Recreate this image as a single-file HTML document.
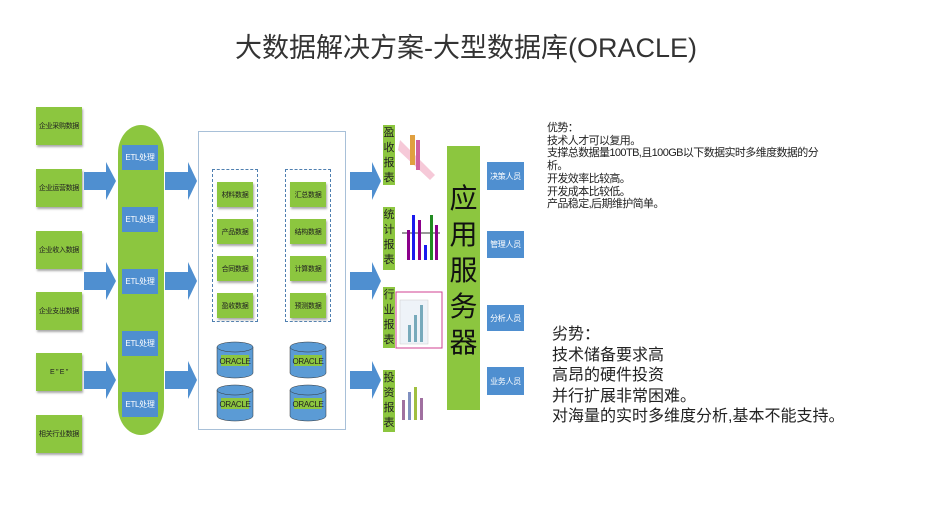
<!DOCTYPE html>
<html><head><meta charset="utf-8"><style>
body{margin:0;width:950px;height:525px;background:#fff;position:relative;overflow:hidden;font-family:"Liberation Sans","Noto Sans CJK SC",sans-serif}
div{position:absolute;box-sizing:border-box}
.g{background:#8cc63f;color:#222;font-size:7px;white-space:nowrap;letter-spacing:-0.3px;display:flex;align-items:center;justify-content:center;box-shadow:1px 2px 2px #aaa}
.b{background:#4f8fd0;color:#fff;font-size:8px;white-space:nowrap;letter-spacing:-0.3px;display:flex;align-items:center;justify-content:center}
.rl{background:#8cc63f;width:12px;font-size:11px;line-height:15px;text-align:center;color:#222;padding-top:1px}
</style></head><body>
<div style="left:1px;top:26px;width:930px;text-align:center;font-size:27px;color:#333">大数据解决方案-大型数据库(ORACLE)</div>

<div class="g" style="left:36px;top:107px;width:46px;height:38px">企业采购数据</div>
<div class="g" style="left:36px;top:169px;width:46px;height:38px">企业运营数据</div>
<div class="g" style="left:36px;top:231px;width:46px;height:38px">企业收入数据</div>
<div class="g" style="left:36px;top:292px;width:46px;height:38px">企业支出数据</div>
<div class="g" style="left:36px;top:353px;width:46px;height:38px">E " E "</div>
<div class="g" style="left:36px;top:415px;width:46px;height:38px">相关行业数据</div>

<svg style="position:absolute;left:0;top:0" width="950" height="525">
<g fill="#4f8fd0">
<polygon points="84,172 106,172 106,162 116,181 106,200 106,190 84,190"/>
<polygon points="84,272 106,272 106,262 116,281 106,300 106,290 84,290"/>
<polygon points="84,371 106,371 106,361 116,380 106,399 106,389 84,389"/>
<polygon points="165,172 188,172 188,162 197,181 188,200 188,190 165,190"/>
<polygon points="165,272 188,272 188,262 197,281 188,300 188,290 165,290"/>
<polygon points="165,371 188,371 188,361 197,380 188,399 188,389 165,389"/>
<polygon points="350,172 372,172 372,162 381,181 372,200 372,190 350,190"/>
<polygon points="350,272 372,272 372,262 381,281 372,300 372,290 350,290"/>
<polygon points="350,371 372,371 372,361 381,380 372,399 372,389 350,389"/>
</g>
<g stroke="#333" stroke-width="0.5" fill="#5b9bd5">
<path d="M217,347 v26 a18,5 0 0 0 36,0 v-26" /><ellipse cx="235" cy="347" rx="18" ry="5"/>
<path d="M217,390 v26 a18,5 0 0 0 36,0 v-26" /><ellipse cx="235" cy="390" rx="18" ry="5"/>
<path d="M290,347 v26 a18,5 0 0 0 36,0 v-26" /><ellipse cx="308" cy="347" rx="18" ry="5"/>
<path d="M290,390 v26 a18,5 0 0 0 36,0 v-26" /><ellipse cx="308" cy="390" rx="18" ry="5"/>
</g>
<g font-size="8" fill="#222" text-anchor="middle" letter-spacing="-0.3"><rect x="221" y="355" width="28" height="11" fill="#8cc63f"/><rect x="221" y="398" width="28" height="11" fill="#8cc63f"/><rect x="294" y="355" width="28" height="11" fill="#8cc63f"/><rect x="294" y="398" width="28" height="11" fill="#8cc63f"/>
<text x="235" y="364">ORACLE</text><text x="235" y="407">ORACLE</text><text x="308" y="364">ORACLE</text><text x="308" y="407">ORACLE</text></g>
<g><polygon points="400,140 435,175 430,180 398,150" fill="#f6c9d8"/><rect x="410" y="135" width="5" height="30" fill="#e0a040"/><rect x="416" y="140" width="4" height="30" fill="#d060a0"/>
<rect x="400" y="207" width="42" height="55" fill="#fff"/><line x1="402" y1="233" x2="440" y2="233" stroke="#333"/><rect x="407" y="230" width="3" height="30" fill="#8b008b"/><rect x="412" y="215" width="3" height="45" fill="#1a1aee"/><rect x="418" y="220" width="3" height="40" fill="#8b008b"/><rect x="424" y="245" width="3" height="15" fill="#1a1aee"/><rect x="430" y="215" width="3" height="45" fill="#228b22"/><rect x="435" y="225" width="3" height="35" fill="#8b008b"/>
<rect x="396" y="292" width="46" height="56" fill="#fff" stroke="#d04090"/><rect x="400" y="300" width="28" height="44" fill="#eef3f8" stroke="#ccc" stroke-width=".5"/><rect x="408" y="325" width="3" height="17" fill="#7ab"/><rect x="414" y="315" width="3" height="27" fill="#7ab"/><rect x="420" y="305" width="3" height="37" fill="#7ab"/>
<rect x="396" y="375" width="44" height="55" fill="#fff"/><rect x="402" y="400" width="3" height="20" fill="#a070a0"/><rect x="408" y="392" width="3" height="28" fill="#8090c0"/><rect x="414" y="387" width="3" height="33" fill="#a0c040"/><rect x="420" y="398" width="3" height="22" fill="#a070a0"/></g>
</svg>

<div style="left:118px;top:125px;width:46px;height:310px;background:#8cc63f;border-radius:23px/28px"></div>
<div class="b" style="left:122px;top:145px;width:36px;height:25px">ETL处理</div>
<div class="b" style="left:122px;top:207px;width:36px;height:25px">ETL处理</div>
<div class="b" style="left:122px;top:269px;width:36px;height:25px">ETL处理</div>
<div class="b" style="left:122px;top:331px;width:36px;height:25px">ETL处理</div>
<div class="b" style="left:122px;top:392px;width:36px;height:25px">ETL处理</div>

<div style="left:198px;top:131px;width:148px;height:299px;border:1px solid #a8c0d8"></div>
<div style="left:212px;top:169px;width:46px;height:153px;border:1px dashed #4f7fb0"></div>
<div style="left:285px;top:169px;width:46px;height:153px;border:1px dashed #4f7fb0"></div>
<div class="g" style="left:217px;top:182px;width:36px;height:25px">材料数据</div>
<div class="g" style="left:217px;top:219px;width:36px;height:25px">产品数据</div>
<div class="g" style="left:217px;top:256px;width:36px;height:25px">合同数据</div>
<div class="g" style="left:217px;top:293px;width:36px;height:25px">盈收数据</div>
<div class="g" style="left:290px;top:182px;width:36px;height:25px">汇总数据</div>
<div class="g" style="left:290px;top:219px;width:36px;height:25px">结构数据</div>
<div class="g" style="left:290px;top:256px;width:36px;height:25px">计算数据</div>
<div class="g" style="left:290px;top:293px;width:36px;height:25px">预测数据</div>

<div class="rl" style="left:383px;top:125px;height:60px">盈收报表</div>
<div class="rl" style="left:383px;top:207px;height:63px">统计报表</div>
<div class="rl" style="left:383px;top:287px;height:61px">行业报表</div>
<div class="rl" style="left:383px;top:370px;height:62px">投资报表</div>

<div style="left:447px;top:146px;width:33px;height:264px;background:#8cc63f;font-size:28px;line-height:36px;text-align:center;padding-top:35px;color:#111">应用服务器</div>

<div class="b" style="left:487px;top:162px;width:37px;height:28px">决策人员</div>
<div class="b" style="left:487px;top:231px;width:37px;height:27px">管理人员</div>
<div class="b" style="left:487px;top:305px;width:37px;height:26px">分析人员</div>
<div class="b" style="left:487px;top:367px;width:37px;height:28px">业务人员</div>

<div style="left:547px;top:122px;font-size:11px;line-height:12.7px;color:#222;white-space:nowrap;letter-spacing:-0.6px">优势：<br>技术人才可以复用。<br>支撑总数据量100TB,且100GB以下数据实时多维度数据的分<br>析。<br>开发效率比较高。<br>开发成本比较低。<br>产品稳定,后期维护简单。</div>
<div style="left:552px;top:325px;width:360px;font-size:16px;line-height:20.5px;color:#222">劣势：<br>技术储备要求高<br>高昂的硬件投资<br>并行扩展非常困难。<br>对海量的实时多维度分析,基本不能支持。</div>
</body></html>
